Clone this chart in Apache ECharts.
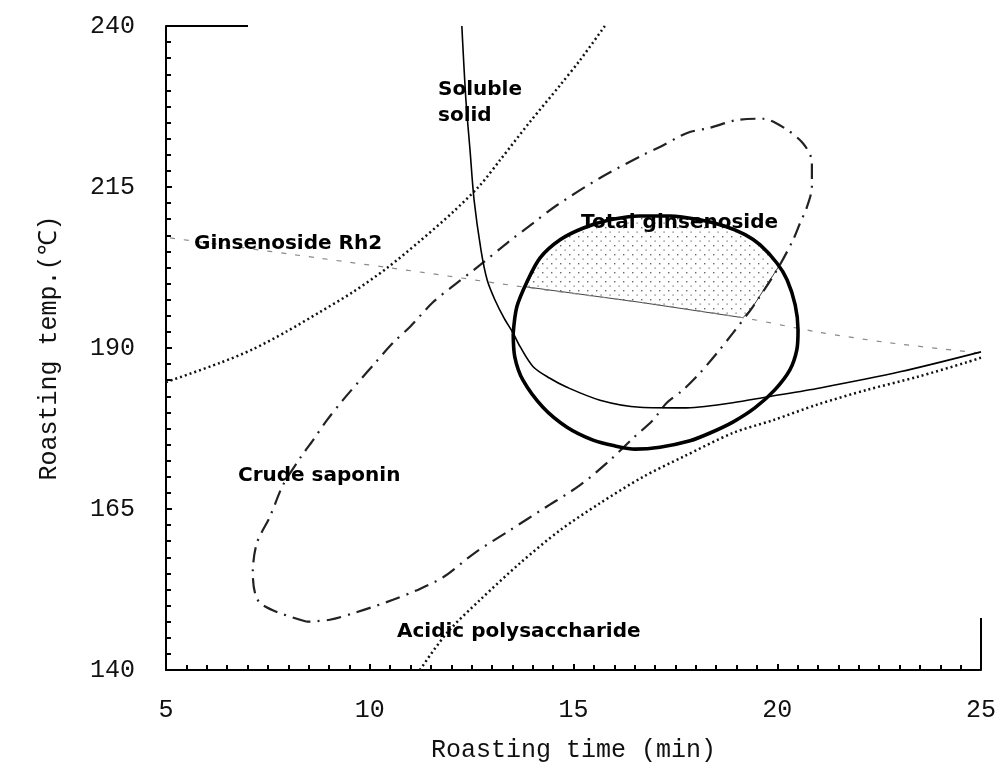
<!DOCTYPE html>
<html>
<head>
<meta charset="utf-8">
<script src="https://cdn.jsdelivr.net/npm/echarts@6/dist/echarts.min.js"></script>
<style>html,body{margin:0;padding:0;background:#fff;}#c{width:1002px;height:774px;}</style>
</head>
<body>
<div id="c"></div>
<script>
// ---- data (x = roasting time, min ; y = roasting temp, degC) ----
const xTicks = [5, 10, 15, 20, 25];
const yTicks = [140, 165, 190, 215, 240];

const solubleSolid = [
  [12.26,240],[12.36,228.5],[12.46,220.8],[12.56,213.0],[12.73,205.2],[12.88,200.6],
  [13.07,197.5],[13.30,194.6],[13.52,192.3],[13.69,190.2],[14.01,187.1],[14.42,185.3],
  [14.84,183.9],[15.65,181.9],[16.63,180.8],[17.69,180.7],[18.91,181.5],[19.75,182.4],
  [21.05,183.8],[23.01,186.3],[25.0,189.4]
];

const totalGinsenoside = [
  [13.52,192.3],[13.61,196.4],[13.86,200.3],[14.18,204.0],[14.67,206.8],[15.23,208.6],
  [15.90,209.9],[16.63,210.5],[17.37,210.5],[18.10,209.9],[18.72,208.9],[19.21,207.6],
  [19.58,206.0],[19.99,203.2],[20.24,200.6],[20.44,196.7],[20.51,192.8],[20.48,189.7],
  [20.31,186.6],[19.94,183.5],[19.45,180.7],[18.91,178.5],[18.35,176.8],[17.86,175.6],
  [17.12,174.6],[16.51,174.3],[16.02,174.8],[15.48,175.7],[14.84,177.7],[14.25,180.8],
  [13.76,185.0],[13.56,188.6],[13.52,192.3]
];

const ginsenosideRh2 = [
  [5.10,207.1],[8.71,204.0],[11.23,201.8],[13.86,199.4],[16.63,197.1],[19.16,194.7],
  [20.98,192.5],[22.77,190.8],[25.0,189.2]
];

const crudeSaponin = [
  [8.46,147.5],[7.31,150.4],[7.13,155.1],[7.23,159.7],[7.55,163.8],[7.87,168.7],
  [8.29,172.9],[8.61,175.7],[8.95,178.8],[9.34,181.9],[9.76,185.0],[10.08,187.3],
  [10.57,190.8],[10.99,193.3],[11.55,197.1],[12.04,199.6],[12.71,202.9],[13.37,206.3],
  [14.01,209.4],[14.60,212.2],[15.65,216.4],[16.71,220.0],[17.12,221.2],[17.79,223.4],
  [18.35,224.2],[19.01,225.4],[19.65,225.6],[20.14,224.3],[20.63,221.8],[20.85,218.9],
  [20.85,215.0],[20.73,211.9],[20.56,209.4],[20.39,206.8],[19.99,202.1],[19.40,196.4],
  [18.91,192.3],[18.52,189.2],[18.10,186.1],[17.69,183.5],[17.29,181.5],[16.95,178.8],
  [16.46,176.0],[15.90,172.6],[15.16,168.7],[14.30,165.2],[13.44,161.7],[12.58,158.2],
  [11.80,154.4],[11.16,152.4],[10.57,150.9],[9.69,149.0],[9.02,147.8],[8.46,147.5]
];

const upperDotted = [
  [5.0,184.7],[6.33,187.7],[7.13,189.8],[7.97,192.6],[8.78,195.6],[9.59,198.7],
  [10.42,202.4],[11.23,206.6],[12.04,211.1],[12.71,215.3],[13.20,219.2],[13.93,225.1],
  [14.67,230.8],[15.16,234.7],[15.77,240.0]
];

const acidicPolysaccharide = [
  [11.23,140.0],[11.90,145.8],[12.71,150.9],[13.69,156.6],[14.67,161.7],[15.65,165.9],
  [16.71,170.0],[17.69,173.1],[18.91,176.8],[19.90,178.8],[20.98,181.2],[22.20,183.5],
  [23.43,185.5],[24.66,187.8],[25.0,188.5]
];

const optimumRegion = [
  [13.83,199.5],[14.18,204.0],[14.67,206.8],[15.23,208.6],[15.90,209.9],[16.63,210.5],
  [17.37,210.5],[18.10,209.9],[18.72,208.9],[19.21,207.6],[19.58,206.0],[20.04,202.7],
  [19.40,196.4],[19.16,194.7],[16.63,197.1],[13.83,199.5]
];

const labels = [
  {text:'Soluble', x:438, y:90},
  {text:'solid', x:438, y:116},
  {text:'Ginsenoside Rh2', x:194, y:244},
  {text:'Total ginsenoside', x:581, y:223},
  {text:'Crude saponin', x:238, y:476},
  {text:'Acidic polysaccharide', x:397, y:632}
];

// ---- dotted fill pattern ----
const pc = document.createElement('canvas');
pc.width = 9; pc.height = 9;
const pctx = pc.getContext('2d');
pctx.fillStyle = '#666';
pctx.fillRect(2, 2, 1.4, 1.4);
pctx.fillRect(6.5, 6.5, 1.2, 1.2);

const chart = echarts.init(document.getElementById('c'), null, {renderer:'canvas'});
const monoFont = '"Liberation Mono", "DejaVu Sans Mono", monospace';
const lblFont = 'bold 20px "DejaVu Sans", sans-serif';

function lineSeries(name, data, style, smooth) {
  return {
    name, type:'line', data, showSymbol:false, symbol:'none',
    smooth: smooth, silent:true, lineStyle: style, z: 3
  };
}

chart.setOption({
  animation:false,
  backgroundColor:'#fff',
  grid:{left:166, right:21, top:26, bottom:104},
  xAxis:{
    type:'value', min:xTicks[0], max:xTicks[xTicks.length-1], interval:5,
    name:'Roasting time (min)', nameLocation:'middle', nameGap:68,
    nameTextStyle:{fontFamily:monoFont, fontSize:25, color:'#111'},
    axisLine:{show:true, onZero:false, lineStyle:{color:'#000', width:2}},
    axisTick:{show:true, inside:true, length:6, lineStyle:{color:'#000', width:2}},
    minorTick:{show:true, splitNumber:10, length:5, lineStyle:{color:'#000', width:2}},
    axisLabel:{fontFamily:monoFont, fontSize:25, color:'#111', margin:28},
    splitLine:{show:false}
  },
  yAxis:{
    type:'value', min:yTicks[0], max:yTicks[yTicks.length-1], interval:25,
    name:'Roasting temp.(℃)', nameLocation:'middle', nameGap:104,
    nameTextStyle:{fontFamily:monoFont, fontSize:25, color:'#111'},
    axisLine:{show:true, onZero:false, lineStyle:{color:'#000', width:2}},
    axisTick:{show:true, inside:true, length:6, lineStyle:{color:'#000', width:2}},
    minorTick:{show:true, splitNumber:10, length:5, lineStyle:{color:'#000', width:2}},
    axisLabel:{fontFamily:monoFont, fontSize:25, color:'#111', margin:31, padding:[8,0,0,0]},
    splitLine:{show:false}
  },
  series:[
    {
      type:'custom', coordinateSystem:'cartesian2d', data:optimumRegion, silent:true, z:1,
      renderItem:function(params, api){
        if (params.dataIndex !== 0) return null;
        const pts = optimumRegion.map(p => api.coord(p));
        return {type:'polygon', shape:{points:pts},
          style:{fill:{image:pc, repeat:'repeat'}, stroke:'#444', lineWidth:1}};
      }
    },
    lineSeries('Ginsenoside Rh2', ginsenosideRh2, {color:'#8a8a8a', width:1.2, type:[5,9]}, 0.3),
    lineSeries('Upper dotted', upperDotted, {color:'#111', width:2.5, type:[2,3]}, 0.3),
    lineSeries('Acidic polysaccharide', acidicPolysaccharide, {color:'#111', width:2.5, type:[2,3]}, 0.3),
    lineSeries('Crude saponin', crudeSaponin, {color:'#222', width:2.2, type:[15,7,2,7]}, 0.3),
    lineSeries('Soluble solid', solubleSolid, {color:'#000', width:1.6}, 0.3),
    lineSeries('Total ginsenoside', totalGinsenoside, {color:'#000', width:3.6}, 0.3)
  ],
  graphic: labels.map(l => ({
    type:'text', z:10, silent:true,
    style:{text:l.text, x:l.x, y:l.y, verticalAlign:'middle', align:'left', font:lblFont, fill:'#000'}
  })).concat([
    {type:'line', silent:true, z:5, shape:{x1:166, y1:26, x2:248, y2:26}, style:{stroke:'#000', lineWidth:2}},
    {type:'line', silent:true, z:5, shape:{x1:981, y1:618, x2:981, y2:670}, style:{stroke:'#000', lineWidth:2}}
  ])
});
</script>
</body>
</html>
